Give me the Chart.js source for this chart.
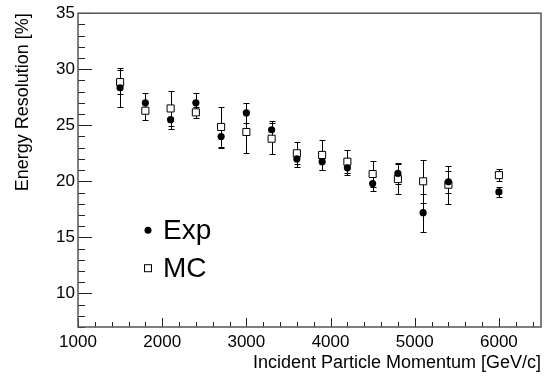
<!DOCTYPE html>
<html lang="en">
  <head>
    <meta charset="UTF-8" />
    <title>Energy Resolution</title>
    <script src="https://cdn.jsdelivr.net/npm/chart.js"></script>
    <style>
      body { margin: 0; background: #fff; }
      #wrap { width: 550px; height: 378px; }
    </style>
  </head>
  <body>
    <div id="wrap"><canvas id="resChart"></canvas></div>
    <script>
      // data
      const momentum = [1500, 1800, 2100, 2400, 2700, 3000, 3300, 3600, 3900, 4200, 4500, 4800, 5100, 5400, 6000];
      const expRes = [28.35, 27.0, 25.5, 27.0, 24.0, 26.1, 24.6, 22.0, 21.75, 21.2, 19.8, 20.7, 17.2, 19.95, 19.05];
      const expErr = [1.75, 0.9, 0.85, 0.85, 1.0, 0.9, 0.8, 0.7, 0.75, 0.6, 0.7, 0.9, 1.7, 1.0, 0.45];
      const mcRes = [28.85, 26.3, 26.5, 26.15, 24.85, 24.4, 23.8, 22.5, 22.35, 21.75, 20.65, 20.2, 20.0, 19.7, 20.55];
      const mcErr = [1.1, 0.8, 1.6, 0.5, 1.75, 1.9, 1.4, 1.0, 1.35, 1.0, 1.2, 1.35, 1.9, 1.7, 0.55];
      const seriesNames = ["Exp", "MC"];
      const yMajorStep = 5;
      const yMinorStep = 1;
      const xMajorStep = 1000;
      const xMinorStep = 200;

      const FONT = "'Liberation Sans', Arial, Helvetica, sans-serif";

      const toPoints = (ys) => momentum.map((x, i) => ({ x: x, y: ys[i] }));

      // inward ticks + frame, drawn in the same stroke pass as the error bars
      function drawTicks(chart) {
        const { ctx, chartArea: a, scales } = chart;
        const xs = scales.x;
        const ys = scales.y;
        ctx.save();
        ctx.strokeStyle = "#222";
        ctx.lineWidth = 1;
        ctx.beginPath();
        for (let v = ys.min; v <= ys.max + 1e-9; v += yMinorStep) {
          const y = Math.round(ys.getPixelForValue(v)) + 0.5;
          const len = Math.abs(v % yMajorStep) < 1e-9 ? 14 : 7;
          ctx.moveTo(a.left, y);
          ctx.lineTo(a.left + len, y);
        }
        for (let v = xs.min; v < xs.max; v += xMinorStep) {
          const x = Math.round(xs.getPixelForValue(v)) + 0.5;
          const len = v % xMajorStep === 0 ? 9 : 5;
          ctx.moveTo(x, a.bottom);
          ctx.lineTo(x, a.bottom - len);
        }
        ctx.stroke();
        ctx.restore();
      }

      const errorBars = {
        id: "errorBars",
        beforeDatasetsDraw(chart) {
          const { ctx, scales } = chart;
          drawTicks(chart);
          ctx.save();
          ctx.strokeStyle = "#000";
          ctx.lineWidth = 1;
          chart.data.datasets.forEach((ds, di) => {
            const meta = chart.getDatasetMeta(di);
            meta.data.forEach((pt, i) => {
              const v = ds.data[i].y;
              const e = ds.errors[i];
              const x = Math.round(pt.x) + 0.5;
              const yTop = Math.round(scales.y.getPixelForValue(v + e)) + 0.5;
              const yBot = Math.round(scales.y.getPixelForValue(v - e)) + 0.5;
              ctx.beginPath();
              ctx.moveTo(x, yTop);
              ctx.lineTo(x, yBot);
              ctx.moveTo(x - 3, yTop);
              ctx.lineTo(x + 3, yTop);
              ctx.moveTo(x - 3, yBot);
              ctx.lineTo(x + 3, yBot);
              ctx.stroke();
            });
          });
          ctx.restore();
        },
      };

      const frame = {
        id: "frame",
        afterDraw(chart) {
          const { ctx, chartArea: a } = chart;
          drawTicks(chart);
          ctx.save();
          ctx.strokeStyle = "#555";
          ctx.lineWidth = 1.5;
          ctx.strokeRect(a.left, a.top, a.right - a.left, a.bottom - a.top);
          ctx.restore();
        },
      };

      // legend inside the frame
      const innerLegend = {
        id: "innerLegend",
        afterDraw(chart) {
          const { ctx, chartArea: a } = chart;
          const mx = a.left + 70;
          const rows = [a.top + 217, a.top + 255];
          ctx.save();
          ctx.fillStyle = "#000";
          ctx.strokeStyle = "#000";
          ctx.lineWidth = 1;
          ctx.beginPath();
          ctx.arc(mx, rows[0], 3.5, 0, Math.PI * 2);
          ctx.fill();
          ctx.fillStyle = "#fff";
          ctx.fillRect(mx - 3.5, rows[1] - 3.5, 7, 7);
          ctx.strokeRect(mx - 3.5, rows[1] - 3.5, 7, 7);
          ctx.fillStyle = "#000";
          ctx.font = "28px " + FONT;
          ctx.textBaseline = "middle";
          ctx.textAlign = "left";
          seriesNames.forEach((n, i) => ctx.fillText(n, mx + 15, rows[i] + 1));
          ctx.restore();
        },
      };

      new Chart(document.getElementById("resChart"), {
        type: "scatter",
        data: {
          datasets: [
            {
              label: seriesNames[0],
              data: toPoints(expRes),
              errors: expErr,
              pointStyle: "circle",
              pointRadius: 3.6,
              backgroundColor: "#000",
              borderColor: "#000",
              borderWidth: 0,
            },
            {
              label: seriesNames[1],
              data: toPoints(mcRes),
              errors: mcErr,
              pointStyle: "rect",
              pointRadius: 5,
              backgroundColor: "#fff",
              borderColor: "#000",
              borderWidth: 1,
            },
          ],
        },
        options: {
          responsive: true,
          maintainAspectRatio: false,
          animation: false,
          layout: { padding: { top: 12, right: 9, left: 0, bottom: 0 } },
          plugins: { legend: { display: false }, tooltip: { enabled: false } },
          scales: {
            x: {
              type: "linear",
              min: 1000,
              max: 6500,
              grid: { display: false, drawTicks: false },
              border: { display: false },
              afterFit: (s) => { s.height = 51; },
              ticks: {
                stepSize: xMinorStep,
                autoSkip: false,
                maxRotation: 0,
                padding: 5,
                color: "#000",
                font: { family: FONT, size: 17 },
                callback: (v) => (v % xMajorStep === 0 ? String(v) : ""),
              },
              title: {
                display: true,
                text: "Incident Particle Momentum [GeV/c]",
                align: "end",
                color: "#000",
                font: { family: FONT, size: 18 },
                padding: { top: 0, bottom: 4 },
              },
            },
            y: {
              min: 7,
              max: 35,
              grid: { display: false, drawTicks: false },
              border: { display: false },
              afterFit: (s) => { s.width = 78; },
              ticks: {
                stepSize: yMinorStep,
                autoSkip: false,
                padding: 3,
                color: "#000",
                font: { family: FONT, size: 17 },
                callback: (v) => (v % yMajorStep === 0 ? String(v) : ""),
              },
              title: {
                display: true,
                text: "Energy Resolution [%]",
                align: "end",
                color: "#000",
                font: { family: FONT, size: 18 },
                padding: { top: 12, bottom: 0 },
              },
            },
          },
        },
        plugins: [errorBars, frame, innerLegend],
      });
    </script>
  </body>
</html>
